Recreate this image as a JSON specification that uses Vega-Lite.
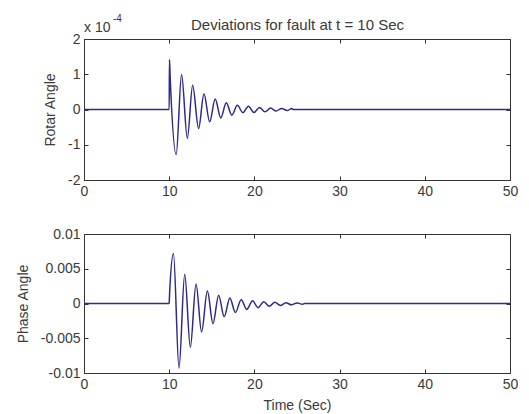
{
  "$schema": "https://vega.github.io/schema/vega-lite/v6.json",
  "padding": {"left": 15, "top": 13, "right": 5, "bottom": 0},
  "background": "white",
  "config": {
    "view": {"stroke": "#333", "strokeWidth": 1},
    "font": "Liberation Sans",
    "axis": {
      "domain": false, "grid": false, "tickSize": -4, "tickColor": "#333", "tickWidth": 1,
      "labelPadding": 8, "labelFont": "Liberation Sans", "labelFontSize": 14, "labelColor": "#3a3a3a",
      "labelFlush": false, "labelOverlap": false,
      "titleFont": "Liberation Sans", "titleFontSize": 14, "titleFontWeight": "normal", "titleColor": "#3a3a3a"
    }
  },
  "spacing": 27,
  "datasets": {
    "rotor": [
      {"t": 0, "v": 0}, {"t": 10, "v": 0}, {"t": 10.03, "v": 0.000142}, {"t": 10.12, "v": 0.000088},
      {"t": 10.82, "v": -0.000128}, {"t": 11.45, "v": 0.000099}, {"t": 12.13, "v": -0.000082},
      {"t": 12.75, "v": 0.000069}, {"t": 13.45, "v": -0.000054}, {"t": 14.08, "v": 0.000045},
      {"t": 14.75, "v": -0.000035}, {"t": 15.4, "v": 0.00003}, {"t": 16.05, "v": -0.000024},
      {"t": 16.7, "v": 0.000019}, {"t": 17.35, "v": -0.000016}, {"t": 18.0, "v": 0.000012},
      {"t": 18.65, "v": -0.000009}, {"t": 19.3, "v": 0.0000095}, {"t": 19.95, "v": -0.0000085},
      {"t": 20.6, "v": 0.0000057}, {"t": 21.25, "v": -0.0000065}, {"t": 21.9, "v": 0.000004},
      {"t": 22.55, "v": -0.0000045}, {"t": 23.2, "v": 0.000003}, {"t": 23.85, "v": -0.000003},
      {"t": 24.4, "v": 0.000003}, {"t": 24.55, "v": 0}, {"t": 50, "v": 0}
    ],
    "phase": [
      {"t": 0, "v": 0}, {"t": 10, "v": 0}, {"t": 10.03, "v": 0.001}, {"t": 10.5, "v": 0.0072},
      {"t": 11.15, "v": -0.0093}, {"t": 11.82, "v": 0.0042}, {"t": 12.48, "v": -0.0063},
      {"t": 13.15, "v": 0.0028}, {"t": 13.8, "v": -0.0041}, {"t": 14.48, "v": 0.0018},
      {"t": 15.14, "v": -0.0029}, {"t": 15.8, "v": 0.0012}, {"t": 16.45, "v": -0.0019},
      {"t": 17.12, "v": 0.0008}, {"t": 17.77, "v": -0.0013}, {"t": 18.45, "v": 0.00055},
      {"t": 19.1, "v": -0.00085}, {"t": 19.78, "v": 0.00038}, {"t": 20.43, "v": -0.0006},
      {"t": 21.1, "v": 0.00026}, {"t": 21.75, "v": -0.0004}, {"t": 22.4, "v": 0.00018},
      {"t": 23.05, "v": -0.00028}, {"t": 23.7, "v": 0.00012}, {"t": 24.35, "v": -0.00019},
      {"t": 25.0, "v": 0.00007}, {"t": 25.65, "v": -0.0001}, {"t": 25.9, "v": 0}, {"t": 50, "v": 0}
    ],
    "scale_note": [
      {"base": "x 10", "exponent": "-4"}
    ]
  },
  "vconcat": [
    {
      "width": 426, "height": 141,
      "layer": [
        {
          "data": {"name": "rotor"},
          "mark": {"type": "line", "color": "#2b2b8c", "strokeWidth": 1.5, "interpolate": "monotone"},
          "encoding": {
            "x": {"field": "t", "type": "quantitative", "scale": {"domain": [0, 50], "nice": false},
                  "axis": {"values": [0, 10, 20, 30, 40, 50], "title": null}},
            "y": {"field": "v", "type": "quantitative", "scale": {"domain": [-0.0002, 0.0002], "nice": false},
                  "axis": {"values": [-0.0002, -0.0001, 0, 0.0001, 0.0002], "labelExpr": "'' + round(datum.value*1e4)", "title": "Rotar Angle", "titlePadding": 10}}
          }
        },
        {
          "data": {"name": "rotor"},
          "mark": {"type": "line", "opacity": 0},
          "encoding": {
            "x": {"field": "t", "type": "quantitative",
                  "axis": {"orient": "top", "values": [0, 10, 20, 30, 40, 50], "labels": false, "title": "Deviations for fault at t = 10 Sec", "titleFontSize": 15, "titlePadding": 6}},
            "y": {"field": "v", "type": "quantitative",
                  "axis": {"orient": "right", "values": [-0.0002, -0.0001, 0, 0.0001, 0.0002], "labels": false, "title": null}}
          }
        },
        {
          "data": {"name": "scale_note"},
          "mark": {"type": "text", "align": "left", "baseline": "alphabetic", "dy": -7, "fontSize": 14, "fontWeight": "normal", "color": "#3a3a3a", "font": "Liberation Sans"},
          "encoding": {
            "x": {"datum": 0, "type": "quantitative", "axis": null},
            "y": {"datum": 0.0002, "type": "quantitative", "axis": null},
            "text": {"field": "base"}
          }
        },
        {
          "data": {"name": "scale_note"},
          "mark": {"type": "text", "align": "left", "baseline": "alphabetic", "dx": 29, "dy": -17, "fontSize": 10, "fontWeight": "normal", "color": "#3a3a3a", "font": "Liberation Sans"},
          "encoding": {
            "x": {"datum": 0, "type": "quantitative", "axis": null},
            "y": {"datum": 0.0002, "type": "quantitative", "axis": null},
            "text": {"field": "exponent"}
          }
        }
      ],
      "resolve": {"axis": {"x": "independent", "y": "independent"}}
    },
    {
      "width": 426, "height": 139,
      "data": {"name": "phase"},
      "layer": [
        {
          "mark": {"type": "line", "color": "#2b2b8c", "strokeWidth": 1.5, "interpolate": "monotone"},
          "encoding": {
            "x": {"field": "t", "type": "quantitative", "scale": {"domain": [0, 50], "nice": false},
                  "axis": {"values": [0, 10, 20, 30, 40, 50], "title": "Time (Sec)", "titlePadding": 7}},
            "y": {"field": "v", "type": "quantitative", "scale": {"domain": [-0.01, 0.01], "nice": false},
                  "axis": {"values": [-0.01, -0.005, 0, 0.005, 0.01], "labelExpr": "'' + datum.value", "title": "Phase Angle", "titlePadding": 10}}
          }
        },
        {
          "mark": {"type": "line", "opacity": 0},
          "encoding": {
            "x": {"field": "t", "type": "quantitative",
                  "axis": {"orient": "top", "values": [0, 10, 20, 30, 40, 50], "labels": false, "title": null}},
            "y": {"field": "v", "type": "quantitative",
                  "axis": {"orient": "right", "values": [-0.01, -0.005, 0, 0.005, 0.01], "labels": false, "title": null}}
          }
        }
      ],
      "resolve": {"axis": {"x": "independent", "y": "independent"}}
    }
  ]
}
